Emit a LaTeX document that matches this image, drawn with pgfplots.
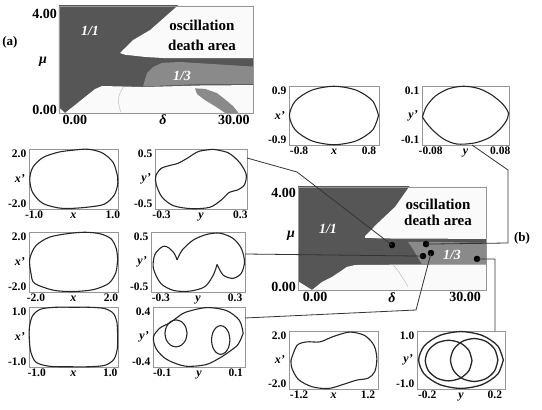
\documentclass[border=0pt]{standalone}
\usepackage{fontspec}
\setmainfont{Liberation Serif}
\usepackage{pgfplots}
\pgfplotsset{compat=1.18}

\definecolor{darkreg}{RGB}{86,86,86}
\definecolor{midreg}{RGB}{138,138,138}
\definecolor{lightreg}{RGB}{250,250,250}
\definecolor{framegray}{RGB}{150,150,150}

\pgfplotsset{
  inset/.style={anchor=south west, scale only axis, clip=false,
    axis line style={framegray, line width=0.9pt},
    major tick length=0pt, tick style={draw=none},
    tick label style={font=\fontsize{11.5}{11.5}\selectfont\bfseries, inner sep=2.5pt,
      text height=0.7em, text depth=0.05em},
    every axis x label/.style={at={(axis description cs:0.5,0)}, anchor=north,
      inner sep=2.5pt, text height=0.7em, text depth=0.05em,
      font=\fontsize{12}{12}\selectfont\bfseries\itshape},
    every axis y label/.style={at={(axis description cs:0,0.5)}, anchor=east,
      inner sep=4pt, font=\fontsize{12}{12}\selectfont\bfseries\itshape}},
  map/.style={anchor=south west, scale only axis, axis on top,
    axis line style={framegray, line width=0.9pt},
    major tick length=0pt, tick style={draw=none},
    tick label style={font=\fontsize{14}{14}\selectfont\bfseries, inner sep=2pt},
    xtick={0,30}, xticklabels={0.00,30.00}, ytick={0,4}, yticklabels={0.00,4.00}},
  curve/.style={smooth, black!85, line width=1.1pt},
}
\tikzset{conn/.style={black!80, line width=0.8pt},
  lab/.style={font=\fontsize{15}{15}\selectfont\bfseries},
  ratio/.style={text=white, font=\fontsize{14}{14}\selectfont\bfseries\itshape},
  greek/.style={font=\fontsize{14}{14}\selectfont\bfseries\itshape}}

\begin{document}
\begin{tikzpicture}[x=1pt,y=1pt]
\useasboundingbox (0,0) rectangle (542,410);

% ---- map (a)
\begin{axis}[map, at={(59pt,297pt)}, width=194pt, height=107pt,
  xmin=-3, xmax=33.6, ymin=-0.125, ymax=4.33]
\addplot[fill=darkreg, draw=none] coordinates {(-4,-1) (35,-1) (35,5) (-4,5)};
\addplot[fill=lightreg, draw=none] coordinates {(20.2,4.5) (14.2,3.33) (10.96,2.91) (9.08,2.5) (8.5,2.37) (9.5,2.3) (13.2,2.21) (17.0,2.16) (35,2.16) (35,4.5)};
\addplot[fill=lightreg, draw=none] coordinates {(-1.87,-0.125) (0.02,0.205) (1.9,0.54) (3.79,0.87) (5.11,1.0) (12.85,0.955) (23.6,1.02) (35,1.04) (35,-0.3) (-1.87,-0.3)};
\addplot[fill=lightreg, draw=none] coordinates {(-3.5,0.21) (-1.87,-0.125) (-1.87,-0.3) (-3.5,-0.3)};
\addplot[fill=midreg, draw=none] coordinates {(12.85,0.98) (13.04,1.12) (13.6,1.54) (14.74,1.79) (16.4,1.96) (19.8,2.0) (25.5,1.92) (35,1.79) (35,1.08) (23.6,1.08) (12.85,0.98)};
\addplot[fill=midreg, draw=none] coordinates {(22.66,0.9) (24.55,0.88) (26.8,0.705) (28.5,0.41) (29.83,0.163) (31.15,-0.2) (28.9,-0.2) (26.4,0.163) (24.55,0.41) (23.04,0.663)};
\addplot[smooth, gray!50, line width=0.5pt] coordinates {(9.3,1.0) (8.5,0.7) (8.2,0.4) (8.4,0.1) (8.7,-0.1)};
\end{axis}
\node[font=\fontsize{13}{13}\selectfont\bfseries] at (10,368) {(a)};
\node[ratio] at (90,379) {1/1};
\node[lab] at (202,385) {oscillation};
\node[lab] at (202,365) {death area};
\node[ratio] at (182,334) {1/3};
\node[greek] at (43,348) {μ};
\node[greek] at (163,290) {δ};

% ---- map (b)
\begin{axis}[map, at={(298pt,120pt)}, width=188pt, height=103pt,
  xmin=-3.4, xmax=34.2, ymin=-0.123, ymax=4.26]
\addplot[fill=darkreg, draw=none] coordinates {(-4,-1) (35,-1) (35,5) (-4,5)};
\addplot[fill=lightreg, draw=none] coordinates {(19.6,4.5) (16.0,3.41) (12.6,2.73) (10.6,2.30) (10.0,2.17) (10.0,2.1) (13.4,2.07) (35,2.05) (35,4.5)};
\addplot[fill=lightreg, draw=none] coordinates {(-0.6,-0.123) (1.4,0.22) (3.4,0.43) (6.4,0.86) (8.0,0.94) (20,0.96) (35,0.97) (35,-0.3) (-0.6,-0.3)};
\addplot[fill=lightreg, draw=none] coordinates {(-4,0.33) (-0.6,-0.123) (-0.6,-0.3) (-4,-0.3)};
\addplot[fill=midreg, draw=none] coordinates {(18.6,1.92) (25,1.92) (35,1.88) (35,0.97) (21.4,0.97) (20.2,1.4) (19.2,1.75)};
\addplot[smooth, gray!50, line width=0.5pt] coordinates {(15.6,0.95) (16.6,0.7) (17.4,0.43) (18.1,0.2) (18.6,0.0)};
\addplot[only marks, mark=*, mark size=3pt, black] coordinates {(15.4,1.79) (22.2,1.83) (21.6,1.32) (23.2,1.45) (32.4,1.2)};
\coordinate (d4) at (axis cs:15.4,1.79);
\coordinate (d2) at (axis cs:22.2,1.83);
\coordinate (d6) at (axis cs:21.6,1.32);
\coordinate (d8) at (axis cs:23.2,1.45);
\coordinate (d10) at (axis cs:32.4,1.2);
\end{axis}
\node[font=\fontsize{13}{13}\selectfont\bfseries] at (522,172) {(b)};
\node[ratio] at (328,181) {1/1};
\node[lab] at (438,206) {oscillation};
\node[lab] at (438,190) {death area};
\node[ratio] at (452,155) {1/3};
\node[greek] at (291,174) {μ};
\node[greek] at (392,112) {δ};

% ---- insets
\begin{axis}[inset, at={(289pt,265pt)}, width=90pt, height=59pt,
  xmin=-1.03, xmax=1.03, ymin=-1.08, ymax=1.08,
  xtick={-0.8,0.8}, xticklabels={-0.8,0.8}, ytick={-0.9,0.9}, yticklabels={-0.9,0.9},
  xlabel={x}, ylabel={x'}]
\addplot[curve] coordinates {(1.02,0) (0.883,0.535) (0.51,0.927) (0,1.07) (-0.51,0.927) (-0.883,0.535) (-1.02,0) (-0.883,-0.535) (-0.51,-0.927) (0,-1.07) (0.51,-0.927) (0.883,-0.535) (1.02,0)};
\end{axis}

\begin{axis}[inset, at={(422pt,265pt)}, width=87pt, height=59pt,
  xmin=-0.1, xmax=0.1, ymin=-0.12, ymax=0.12,
  xtick={-0.08,0.08}, xticklabels={-0.08,0.08}, ytick={-0.1,0.1}, yticklabels={-0.1,0.1},
  xlabel={y}, ylabel={y'}]
\addplot[curve] coordinates {(-0.099,-0.006) (-0.09,0.036) (-0.07,0.078) (-0.04,0.108) (-0.005,0.119) (0.03,0.110) (0.06,0.084) (0.085,0.048) (0.095,0.024) (0.099,0.01)};
\addplot[curve] coordinates {(0.099,0.01) (0.095,-0.018) (0.08,-0.054) (0.055,-0.09) (0.02,-0.112) (-0.02,-0.116) (-0.05,-0.096) (-0.075,-0.06) (-0.09,-0.03) (-0.099,-0.006)};
\end{axis}

\begin{axis}[inset, at={(29pt,201pt)}, width=89pt, height=60pt,
  xmin=-1.13, xmax=1.13, ymin=-2.4, ymax=2.4,
  xtick={-1,1}, xticklabels={-1.0,1.0}, ytick={-2,2}, yticklabels={-2.0,2.0},
  xlabel={x}, ylabel={x'}]
\addplot[curve] coordinates {(1.12,0.19) (1.01,1.31) (0.73,2.09) (0.37,2.38) (0,2.31) (-0.39,2.14) (-0.78,1.71) (-1.03,0.95) (-1.11,0) (-1.04,-1.07) (-0.78,-1.95) (-0.39,-2.31) (-0.11,-2.36) (0.34,-2.26) (0.78,-2.02) (1.03,-1.31) (1.12,-0.48) (1.12,0.19)};
\end{axis}

\begin{axis}[inset, at={(155pt,201pt)}, width=92pt, height=60pt,
  xmin=-0.35, xmax=0.35, ymin=-0.6, ymax=0.6,
  xtick={-0.3,0.3}, xticklabels={-0.3,0.3}, ytick={-0.5,0.5}, yticklabels={-0.5,0.5},
  xlabel={y}, ylabel={y'}]
\addplot[curve] coordinates {(0.094,0.594) (-0.017,0.552) (-0.104,0.416) (-0.174,0.315) (-0.243,0.267) (-0.305,0.208) (-0.344,0.059) (-0.340,-0.119) (-0.295,-0.368) (-0.208,-0.535) (-0.069,-0.594) (0.069,-0.564) (0.156,-0.416) (0.215,-0.267) (0.278,-0.220) (0.330,-0.119) (0.344,0.089) (0.295,0.327) (0.208,0.523) (0.094,0.594)};
\end{axis}

\begin{axis}[inset, at={(29pt,118pt)}, width=89pt, height=60pt,
  xmin=-2.37, xmax=2.37, ymin=-2.4, ymax=2.4,
  xtick={-2,2}, xticklabels={-2.0,2.0}, ytick={-2,2}, yticklabels={-2.0,2.0},
  xlabel={x}, ylabel={x'}]
\addplot[curve] coordinates {(2.35,0.24) (2.28,1.07) (2.0,1.86) (1.41,2.26) (0.59,2.38) (-0.35,2.26) (-1.29,1.98) (-2.0,1.31) (-2.33,0.24) (-2.26,-0.95) (-2.07,-1.71) (-1.06,-2.26) (0,-2.36) (1.06,-2.21) (1.88,-1.71) (2.26,-0.83) (2.35,0.24)};
\end{axis}

\begin{axis}[inset, at={(151pt,118pt)}, width=94pt, height=60pt,
  xmin=-0.38, xmax=0.38, ymin=-0.6, ymax=0.6,
  xtick={-0.3,0.3}, xticklabels={-0.3,0.3}, ytick={-0.5,0.5}, yticklabels={-0.5,0.5},
  xlabel={y}, ylabel={y'}]
\addplot[curve] coordinates {(-0.169,0.042) (-0.128,0.238) (-0.038,0.440) (0.071,0.552) (0.177,0.576) (0.282,0.475) (0.350,0.273) (0.376,0.006) (0.350,-0.226) (0.282,-0.327) (0.203,-0.261) (0.154,-0.048)};
\addplot[curve] coordinates {(0.154,-0.048) (0.124,-0.261) (0.056,-0.493) (-0.064,-0.582) (-0.196,-0.570) (-0.301,-0.428) (-0.361,-0.125) (-0.350,0.143) (-0.301,0.285) (-0.271,0.315) (-0.237,0.285) (-0.192,0.172) (-0.169,0.042)};
\end{axis}

\begin{axis}[inset, at={(29pt,43pt)}, width=89pt, height=60pt,
  xmin=-1.21, xmax=1.21, ymin=-1.2, ymax=1.2,
  xtick={-1,1}, xticklabels={-1.0,1.0}, ytick={-1,1}, yticklabels={-1.0,1.0},
  xlabel={x}, ylabel={x'}]
\addplot[curve] coordinates {(1.2,0) (1.18,0.6) (1.08,0.95) (0.84,1.14) (0.42,1.19) (0,1.19) (-0.48,1.19) (-0.9,1.11) (-1.12,0.83) (-1.2,0.36) (-1.2,-0.12) (-1.16,-0.6) (-1.02,-1.01) (-0.66,-1.17) (-0.12,-1.19) (0.42,-1.19) (0.86,-1.13) (1.1,-0.89) (1.19,-0.48) (1.2,0)};
\end{axis}

\begin{axis}[inset, at={(153pt,43pt)}, width=92pt, height=60pt,
  xmin=-0.125, xmax=0.125, ymin=-0.48, ymax=0.48,
  xtick={-0.1,0.1}, xticklabels={-0.1,0.1}, ytick={-0.4,0.4}, yticklabels={-0.4,0.4},
  xlabel={y}, ylabel={y'}]
\addplot[curve] coordinates {(0.12,0.058) (0.11,0.264) (0.075,0.422) (0.02,0.47) (-0.0375,0.394) (-0.0625,0.298) (-0.081,0.221) (-0.106,0.144) (-0.124,0) (-0.116,-0.192) (-0.0875,-0.36) (-0.0375,-0.466) (0.019,-0.442) (0.056,-0.336) (0.081,-0.24) (0.106,-0.12) (0.12,0.058)};
\addplot[curve] coordinates {(-0.0325,0.0576) (-0.0365,0.1656) (-0.0475,0.2446) (-0.0625,0.2736) (-0.0775,0.2446) (-0.0885,0.1656) (-0.0925,0.0576) (-0.0885,-0.0504) (-0.0775,-0.1294) (-0.0625,-0.1584) (-0.0475,-0.1294) (-0.0365,-0.0504) (-0.0325,0.0576)};
\addplot[curve] coordinates {(0.084,-0.048) (0.0807,0.067) (0.0715,0.151) (0.059,0.182) (0.0465,0.151) (0.0373,0.067) (0.034,-0.048) (0.0373,-0.163) (0.0465,-0.247) (0.059,-0.278) (0.0715,-0.247) (0.0807,-0.163) (0.084,-0.048)};
\end{axis}

\begin{axis}[inset, at={(289pt,21pt)}, width=89pt, height=58pt,
  xmin=-1.55, xmax=1.55, ymin=-2.4, ymax=2.4,
  xtick={-1.2,1.2}, xticklabels={-1.2,1.2}, ytick={-2,2}, yticklabels={-2.0,2.0},
  xlabel={x}, ylabel={x'}]
\addplot[curve] coordinates {(-1.48,0) (-1.27,1.21) (-0.93,1.5) (-0.47,1.5) (0,1.95) (0.57,2.31) (1.09,2.02) (1.41,1.21) (1.51,0.14) (1.44,-0.95) (1.21,-1.5) (0.8,-1.67) (0.34,-2.02) (-0.18,-2.36) (-0.75,-2.21) (-1.22,-1.62) (-1.45,-0.67) (-1.48,0)};
\end{axis}

\begin{axis}[inset, at={(417pt,21pt)}, width=88pt, height=58pt,
  xmin=-0.26, xmax=0.26, ymin=-1.2, ymax=1.2,
  xtick={-0.2,0.2}, xticklabels={-0.2,0.2}, ytick={-1,1}, yticklabels={-1.0,1.0},
  xlabel={y}, ylabel={y'}]
\addplot[curve, line width=1.3pt] coordinates {(0.25,0) (0.2165,0.588) (0.125,1.018) (0,1.176) (-0.125,1.018) (-0.2165,0.588) (-0.25,0) (-0.2165,-0.588) (-0.125,-1.018) (0,-1.176) (0.125,-1.018) (0.2165,-0.588) (0.25,0)};
\addplot[curve, line width=1.3pt] coordinates {(0.065,-0.024) (0.0465,0.396) (-0.004,0.703) (-0.073,0.816) (-0.142,0.703) (-0.1925,0.396) (-0.211,-0.024) (-0.1925,-0.444) (-0.142,-0.751) (-0.073,-0.864) (-0.004,-0.751) (0.0465,-0.444) (0.065,-0.024)};
\addplot[curve, line width=1.3pt] coordinates {(0.218,0) (0.199,0.444) (0.148,0.769) (0.078,0.888) (0.008,0.769) (-0.043,0.444) (-0.062,0) (-0.043,-0.444) (0.008,-0.769) (0.078,-0.888) (0.148,-0.769) (0.199,-0.444) (0.218,0)};
\end{axis}

% ---- connectors
\draw[conn] (247,252) -- (297,238) -- (d4);
\draw[conn] (472,265) -- (508,240) -- (508,167) -- (d2);
\draw[conn] (245,156) -- (d6);
\draw[conn] (245,92) -- (416,100) -- (d8);
\draw[conn] (d10) -- (495,151) -- (495,79);
\end{tikzpicture}
\end{document}
